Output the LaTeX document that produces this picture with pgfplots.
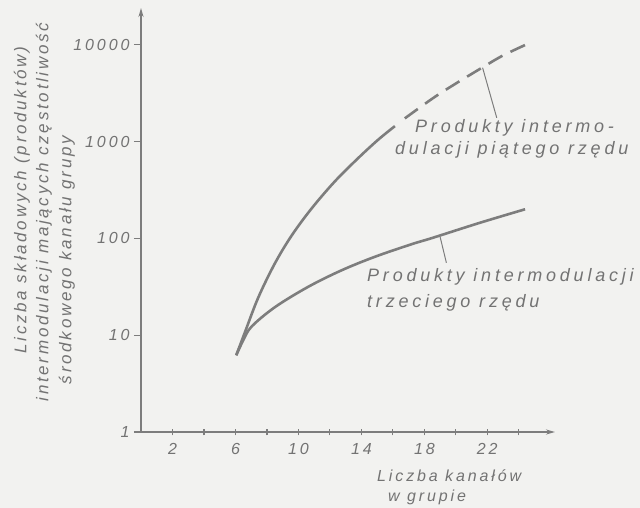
\documentclass[border=0pt]{standalone}
\usepackage{pgfplots}
\pgfplotsset{compat=1.18}
\usepackage{fontspec}
\setmainfont{Liberation Sans}
\newfontfamily\lett{Liberation Sans}[LetterSpace=18]
\newfontfamily\letv{Liberation Sans}[LetterSpace=16]
\newfontfamily\letw{Liberation Sans}[LetterSpace=21]
\usetikzlibrary{arrows.meta}
\definecolor{bg}{RGB}{242,242,240}
\definecolor{ink}{RGB}{125,125,125}
\definecolor{txt}{RGB}{115,115,115}
\newcommand{\hl}{\lett\itshape\fontsize{16}{19}\selectfont}
\newcommand{\hv}{\letv\itshape\fontsize{17}{20}\selectfont}
\newcommand{\hw}{\letw\itshape\fontsize{18}{21}\selectfont}
\begin{document}
\begin{tikzpicture}[x=1pt,y=1pt]
\fill[bg] (0,0) rectangle (640,508);
\useasboundingbox (0,0) rectangle (640,508);
\begin{axis}[
  at={(141pt,76pt)}, anchor=south west,
  scale only axis, width=414pt, height=424pt,
  xmin=0, xmax=26.3, ymode=log, ymin=1, ymax=24000,
  axis lines=left,
  axis line style={draw=ink, line width=1.6pt, -{Stealth[length=9pt,width=5pt]}},
  xtick={2,4,...,24}, xticklabels={2,,6,,10,,14,,18,,22,},
  ytick={1,10,100,1000,10000}, yticklabels={1,10,100,1000,10\hspace{3pt}000},
  minor tick num=0, yminorticks=false,
  tick style={draw=ink, line width=1.2pt},
  major tick length=7pt, xtick align=center, ytick align=outside,
  tick label style={font=\hl, text=txt},
  xticklabel style={yshift=-4pt},
  yticklabel style={xshift=-1pt},
  clip=false,
]
% trzeciego rzedu
\addplot[ink, line width=2.6pt, smooth, tension=0.55] coordinates {
 (6.05,6.2) (6.5,8.9) (7.03,12.3) (8.51,19.5) (10.62,31.6) (12.74,46.8) (14.86,64.6) (17.19,87.1) (18.5,101) (21.5,144.5) (24.4,200)};
% piatego rzedu (solid)
\addplot[ink, line width=2.6pt, smooth, tension=0.55] coordinates {
 (6.05,6.2) (6.6,10.7) (7.45,24.5) (8.5,55) (9.57,107) (10.84,204) (12.32,389) (13.8,676) (15.07,1047) (16.13,1445)};
% piatego rzedu (dashed)
\addplot[ink, line width=2.6pt, smooth, tension=0.55, dash pattern=on 16pt off 9pt] coordinates {
 (16.76,1738) (18.56,2818) (20,3981) (21.73,5888) (23,7762) (24.7,10470)};
\draw[ink, line width=1pt] (axis cs:21.7,5800) -- (axis cs:22.6,1760);
\draw[ink, line width=1pt] (axis cs:19.0,104) -- (axis cs:19.4,56);
\end{axis}
\begin{scope}[every node/.style={font=\hw, text=txt, inner sep=0pt}]
\node[anchor=west] at (415,380) {Produkty intermo-};
\node[anchor=west] at (395,358) {dulacji piątego rzędu};
\node[anchor=west] at (367,231) {Produkty intermodulacji};
\node[anchor=west] at (367,205) {trzeciego rzędu};
\end{scope}
\begin{scope}[every node/.style={font=\hl, text=txt, inner sep=0pt}]
\node[anchor=west] at (377,32) {Liczba kanałów};
\node[anchor=west] at (388,11) {w grupie};
\end{scope}
\begin{scope}[every node/.style={font=\hv, text=txt, inner sep=0pt}]
\node[rotate=90] at (22,308) {Liczba składowych (produktów)};
\node[rotate=90] at (44,296) {intermodulacji mających częstotliwość};
\node[rotate=90] at (67,248) {środkowego kanału grupy};
\end{scope}
\end{tikzpicture}
\end{document}
